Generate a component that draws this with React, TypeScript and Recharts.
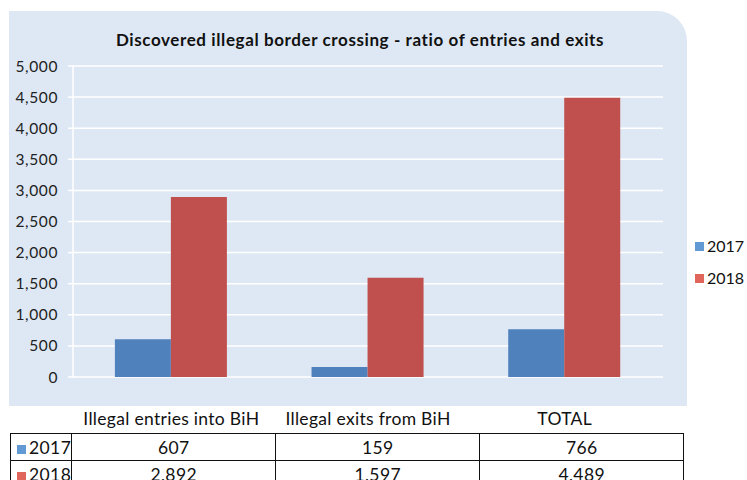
import React from 'react';
import { BarChart, Bar, XAxis, YAxis, CartesianGrid } from 'recharts';

const categories = ['Illegal entries into BiH', 'Illegal exits from BiH', 'TOTAL'];
const values2017 = [607, 159, 766];
const values2018 = [2892, 1597, 4489];
const yTicks = [0, 500, 1000, 1500, 2000, 2500, 3000, 3500, 4000, 4500, 5000];

const chartData = categories.map((name, i) => ({
  name,
  y2017: values2017[i],
  y2018: values2018[i],
}));

const FONT = 'Lato, "Open Sans", sans-serif';
const fmt = (v: number) => v.toLocaleString('en-US');

const legendItems = [
  { label: '2017', color: '#6199d4', values: values2017 },
  { label: '2018', color: '#e0665c', values: values2018 },
];

const cellStyle: React.CSSProperties = {
  border: '1.5px solid #111',
  padding: 0,
  height: 27,
  lineHeight: '25px',
  boxSizing: 'border-box',
};

const App: React.FC = () => {
  return (
    <div style={{ position: 'fixed', left: 0, top: 0, width: 747, height: 480, overflow: 'hidden', fontFamily: FONT, background: '#fff' }}>
      {/* chart panel */}
      <div
        style={{
          position: 'absolute',
          left: 9,
          top: 11,
          width: 678,
          height: 395,
          background: '#dee8f4',
          borderTopRightRadius: 30,
        }}
      />
      <div
        style={{
          position: 'absolute',
          left: 0,
          width: 720,
          top: 29,
          textAlign: 'center',
          fontWeight: 700,
          fontSize: 17,
          letterSpacing: 0.6,
          color: '#111',
        }}
      >
        Discovered illegal border crossing - ratio of entries and exits
      </div>
      <div style={{ position: 'absolute', left: 0, top: 0 }}>
        <BarChart
          width={747}
          height={480}
          data={chartData}
          margin={{ top: 66, right: 84, left: 8, bottom: 53 }}
          barGap={0}
          barCategoryGap="21.3%"
        >
          <CartesianGrid vertical={false} stroke="#ffffff" strokeWidth={1.5} />
          <XAxis
            dataKey="name"
            height={50}
            axisLine={false}
            tickLine={false}
            tickSize={0}
            tickMargin={36}
            tick={{ fill: '#111', fontSize: 17.5, fontFamily: FONT, letterSpacing: 0.3 }}
            interval={0}
          />
          <YAxis
            width={65}
            domain={[0, 5000]}
            ticks={yTicks}
            interval={0}
            tickFormatter={fmt}
            axisLine={{ stroke: '#ffffff', strokeWidth: 1.5 }}
            tickLine={{ stroke: '#ffffff', strokeWidth: 1.5 }}
            tickSize={5}
            tickMargin={10}
            tick={{ fill: '#222', fontSize: 15.5, fontFamily: FONT, letterSpacing: 0.6 }}
          />
          <Bar dataKey="y2017" fill="#4f81bd" isAnimationActive={false} />
          <Bar dataKey="y2018" fill="#c0504d" isAnimationActive={false} />
        </BarChart>
      </div>
      {/* legend */}
      {legendItems.map((it, i) => (
        <div
          key={it.label}
          style={{
            position: 'absolute',
            left: 695,
            top: 235 + i * 32,
            display: 'flex',
            alignItems: 'center',
            fontSize: 16,
            lineHeight: '22px',
            color: '#111',
          }}
        >
          <span style={{ display: 'inline-block', width: 9, height: 9, background: it.color, marginRight: 3 }} />
          {it.label}
        </div>
      ))}
      {/* data table */}
      <table
        style={{
          position: 'absolute',
          left: 10,
          top: 433,
          borderCollapse: 'collapse',
          fontSize: 17.5,
          color: '#111',
          fontFamily: FONT,
          letterSpacing: 0.4,
        }}
      >
        <tbody>
          {legendItems.map((it) => (
            <tr key={it.label}>
              <td style={{ ...cellStyle, width: 61, paddingLeft: 6, whiteSpace: 'nowrap' }}>
                <span style={{ display: 'inline-block', width: 9, height: 9, background: it.color, marginRight: 3 }} />
                {it.label}
              </td>
              {it.values.map((v, j) => (
                <td key={j} style={{ ...cellStyle, width: 204, textAlign: 'center' }}>
                  {fmt(v)}
                </td>
              ))}
            </tr>
          ))}
        </tbody>
      </table>
    </div>
  );
};

export default App;
